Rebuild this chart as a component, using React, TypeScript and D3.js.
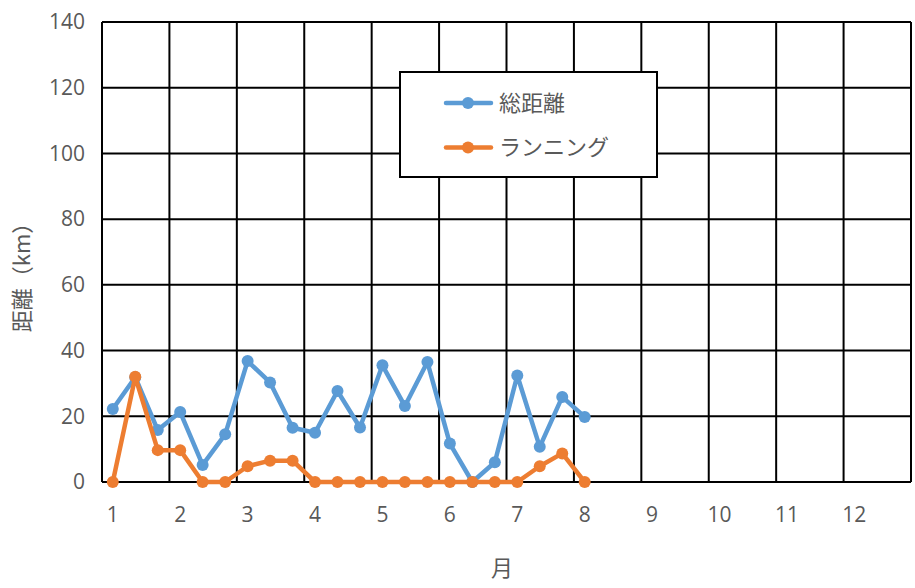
import * as d3 from 'd3';

// month positions of each record (roughly every third of a month)
const MONTH_POS = [
  1, 1.333, 1.667, 2, 2.333, 2.667, 3, 3.333, 3.667, 4, 4.333,
  4.667, 5, 5.333, 5.667, 6, 6.333, 6.667, 7, 7.333, 7.667, 8,
];
const TOTAL = [
  22.2, 31.9, 15.8, 21.3, 5.2, 14.5, 36.8, 30.3, 16.5, 15.0, 27.7,
  16.6, 35.5, 23.1, 36.5, 11.7, 0, 6.0, 32.4, 10.7, 25.9, 19.8,
];
const RUNNING = [
  0, 32, 9.7, 9.7, 0, 0, 4.8, 6.5, 6.5, 0, 0,
  0, 0, 0, 0, 0, 0, 0, 0, 4.8, 8.7, 0,
];
const X_TICKS = [1, 2, 3, 4, 5, 6, 7, 8, 9, 10, 11, 12];
const Y_TICKS = [0, 20, 40, 60, 80, 100, 120, 140];
const SERIES = [
  { name: '総距離', values: TOTAL, color: '#5B9BD5' },
  { name: 'ランニング', values: RUNNING, color: '#ED7D31' },
];

const WIDTH = 915;
const HEIGHT = 588;
const PLOT = { left: 102, right: 911, top: 22, bottom: 482 };
// vertical grid lines sit a little before each month label
const GRID_OFFSET = 0.16;
const FONT = '"Open Sans", "Noto Sans CJK JP", sans-serif';
const CJK_FONT = '"Noto Sans CJK JP", sans-serif';
const TEXT_COLOR = '#595959';

export default function App() {
  const x = d3
    .scaleLinear()
    .domain([1 - GRID_OFFSET, 13 - GRID_OFFSET])
    .range([PLOT.left, PLOT.right]);
  const y = d3.scaleLinear().domain([0, 140]).range([PLOT.bottom, PLOT.top]);

  const gridX = d3.range(0, 13).map((k) => 1 - GRID_OFFSET + k);

  const line = d3
    .line<number>()
    .x((_, i) => x(MONTH_POS[i]))
    .y((d) => y(d));

  return (
    <div style={{ position: 'fixed', left: 0, top: 0 }}>
      <svg width={WIDTH} height={HEIGHT} style={{ display: 'block', background: '#fff' }} fontFamily={FONT}>
        {/* horizontal grid */}
        {Y_TICKS.map((t) => (
          <line key={'h' + t} x1={PLOT.left} x2={PLOT.right} y1={y(t)} y2={y(t)} stroke="#000" strokeWidth={2} />
        ))}
        {/* vertical grid */}
        {gridX.map((g) => (
          <line key={'v' + g} x1={x(g)} x2={x(g)} y1={PLOT.top} y2={PLOT.bottom} stroke="#000" strokeWidth={2} />
        ))}

        {/* y tick labels */}
        {Y_TICKS.map((t) => (
          <text key={'yl' + t} x={85} y={y(t)} dy="0.35em" textAnchor="end" fontSize={21} fill={TEXT_COLOR}>
            {t}
          </text>
        ))}
        {/* x tick labels */}
        {X_TICKS.map((t) => (
          <text key={'xl' + t} x={x(t)} y={515} dy="0.35em" textAnchor="middle" fontSize={21} fill={TEXT_COLOR}>
            {t}
          </text>
        ))}

        {/* series */}
        {SERIES.map((s) => (
          <g key={s.name}>
            <path d={line(s.values) ?? ''} fill="none" stroke={s.color} strokeWidth={4.5} strokeLinejoin="round" />
            {s.values.map((v, i) => (
              <circle key={i} cx={x(MONTH_POS[i])} cy={y(v)} r={6} fill={s.color} />
            ))}
          </g>
        ))}

        {/* axis titles */}
        <text
          transform={`translate(22,272) rotate(-90)`}
          textAnchor="middle"
          dy="0.35em"
          fontSize={22}
          fontFamily={CJK_FONT}
          fill={TEXT_COLOR}
        >
          距離（km）
        </text>
        <text x={502} y={568} dy="0.35em" textAnchor="middle" fontSize={22} fontFamily={CJK_FONT} fill={TEXT_COLOR}>
          月
        </text>

        {/* legend */}
        <g>
          <rect x={400} y={72} width={257} height={105} fill="#fff" stroke="#000" strokeWidth={2} />
          {SERIES.map((s, i) => {
            const ly = 103 + i * 44.5;
            return (
              <g key={'lg' + s.name}>
                <line x1={446} x2={491} y1={ly} y2={ly} stroke={s.color} strokeWidth={4.5} strokeLinecap="round" />
                <circle cx={468} cy={ly} r={6} fill={s.color} />
                <text x={499} y={ly} dy="0.35em" fontSize={22} fontFamily={CJK_FONT} fill={TEXT_COLOR}>
                  {s.name}
                </text>
              </g>
            );
          })}
        </g>
      </svg>
    </div>
  );
}
